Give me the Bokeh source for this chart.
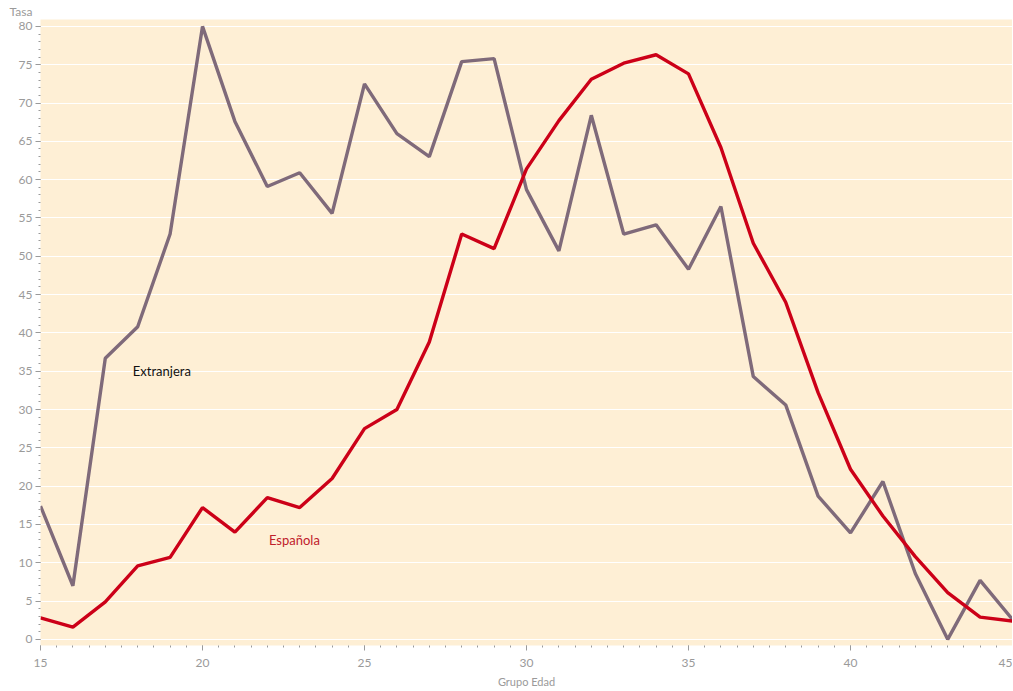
from bokeh.plotting import figure
from bokeh.models import Range1d, Label, SingleIntervalTicker, Title
from bokeh.embed import file_html
from bokeh.resources import INLINE

edad = list(range(15, 46))
extranjera = [17.4, 7.0, 36.7, 40.8, 52.9, 80.0, 67.6, 59.1, 60.9, 55.6,
              72.5, 66.0, 63.0, 75.4, 75.8, 58.7, 50.7, 68.4, 52.9, 54.1,
              48.3, 56.5, 34.3, 30.6, 18.7, 13.9, 20.6, 8.6, 0.0, 7.7, 2.6]
espanola = [2.8, 1.6, 4.9, 9.6, 10.7, 17.2, 14.0, 18.5, 17.2, 21.0,
            27.5, 30.0, 38.8, 52.9, 51.0, 61.4, 67.7, 73.1, 75.2, 76.3,
            73.8, 64.2, 51.7, 44.0, 32.2, 22.2, 16.1, 10.8, 6.1, 2.9, 2.4]

FONT = "Lato"
GRAY = "#9a9a9a"

p = figure(width=1012, height=690, output_backend="svg", toolbar_location=None,
           x_range=Range1d(15, 45), y_range=Range1d(-0.8, 80.9),
           min_border_left=40, min_border_right=0, min_border_top=19,
           background_fill_color="#FEEFD5", border_fill_color="white",
           outline_line_color=None)

p.title = Title(text="Tasa", align="left", offset=-31, text_font=FONT,
                text_font_size="12px", text_color=GRAY, text_font_style="normal",
                standoff=2)

p.line(edad, extranjera, line_color="#7F6A7A", line_width=3.4)
p.line(edad, espanola, line_color="#CC0018", line_width=3.4)

p.add_layout(Label(x=17.85, y=34.0, text="Extranjera", text_font=FONT,
                   text_font_size="13px", text_color="#111111"))
p.add_layout(Label(x=22.05, y=11.9, text="Española", text_font=FONT,
                   text_font_size="13px", text_color="#C0202A"))

p.xgrid.grid_line_color = None
p.ygrid.grid_line_color = "white"
p.ygrid.grid_line_width = 1.2
p.ygrid.ticker = SingleIntervalTicker(interval=5)

p.xaxis.ticker = SingleIntervalTicker(interval=5, num_minor_ticks=10)
p.yaxis.ticker = SingleIntervalTicker(interval=5, num_minor_ticks=5)

for ax in (p.xaxis[0], p.yaxis[0]):
    ax.axis_line_color = None
    ax.major_tick_line_color = GRAY
    ax.minor_tick_line_color = GRAY
    ax.major_tick_in = 0
    ax.minor_tick_in = 0
    ax.major_tick_out = 5
    ax.minor_tick_out = 2
    ax.major_label_text_font = FONT
    ax.major_label_text_font_size = "12px"
    ax.major_label_text_color = GRAY
    ax.axis_label_text_font = FONT
    ax.axis_label_text_font_size = "11px"
    ax.axis_label_text_color = GRAY
    ax.axis_label_text_font_style = "normal"

p.xaxis.axis_label = "Grupo Edad"
p.xaxis.major_label_standoff = 8
p.xaxis.axis_label_standoff = 5
p.yaxis.major_label_standoff = 3

open("out.html", "w").write(file_html(p, INLINE))
